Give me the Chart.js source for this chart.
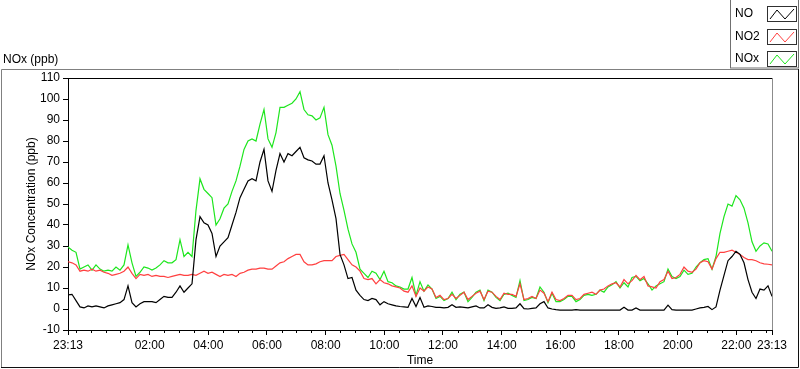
<!DOCTYPE html>
<html>
<head>
<meta charset="utf-8">
<script src="https://cdn.jsdelivr.net/npm/chart.js@4/dist/chart.umd.min.js"></script>
<style>
  html, body { margin: 0; padding: 0; background: #fff; }
  #wrap { width: 800px; height: 369px; }
</style>
</head>
<body>
<div id="wrap"><canvas id="nox" width="800" height="369"></canvas></div>
<script>
// readings every ~8 min from 23:13 to 23:13 next day (177 samples)
const NO = [
  6.7, 7, 4, 1, 0.5, 1.5, 1, 1.5, 1, 0.5,
  1.5, 2, 2.5, 3, 4.5, 11, 3, 1, 2.5, 3.5,
  3.5, 3.5, 3, 4.5, 6, 5.5, 5.5, 8, 11, 8,
  10, 12, 33, 44, 41, 40, 36, 25, 30, 32,
  34, 40, 46, 53, 57, 61, 62, 61, 70, 76,
  61, 56, 66, 74, 70, 74, 73, 75, 77, 72,
  71, 70.5, 69, 69, 73, 60, 52, 43, 26, 21,
  14.5, 15, 9, 6.5, 4.5, 4, 5, 4.5, 2, 3.5,
  2.5, 2, 1.5, 1.2, 1, 0.8, 5, 1.2, 5.5, 0.8,
  1.5, 1.2, 0.8, 0.8, 0.5, 0.8, 2, 0.8, 1, 0.8,
  0.5, 1, 1.5, 0.5, 0.5, 2, 0.8, 0.3, 0.5, 1,
  0.3, 0.3, 0.5, 2.5, 0.2, 0, 0.3, 0.5, 2.5, 3.5,
  0.5, 0, -0.3, -0.5, -0.5, -0.5, -0.5, -0.3, -0.5, -0.5,
  -0.5, -0.5, -0.5, -0.5, -0.5, -0.5, -0.5, -0.5, -0.5, 0.8,
  -0.5, -0.5, 0.5, -0.5, -0.5, -0.5, -0.5, -0.5, -0.5, -0.5,
  1.8, -0.3, -0.5, -0.5, -0.5, -0.5, -0.5, 0, 0.5, 0.8,
  1.2, -0.3, 1, 9, 16, 23, 25, 27.5, 26, 22,
  14, 8, 5, 9.5, 9, 11, 6
];

const NO2 = [
  22.5, 22, 21, 18, 18.5, 18, 19, 18, 18.5, 17.5,
  17, 16, 16.5, 17, 18, 20, 17, 14.5, 16.5, 16,
  16.5, 15.5, 16, 15.5, 15.5, 15, 15.5, 16, 16.5, 16,
  16, 16.5, 16, 17, 18, 17, 17.5, 16.5, 15.5, 16.5,
  16, 16.5, 15.5, 17, 17.5, 18.5, 19, 19, 19.5, 19.5,
  19, 19, 20.5, 22, 22.5, 24, 25, 26, 26, 22.5,
  21, 21, 21.5, 22.5, 23, 23, 23, 25, 25.5, 26,
  23.5, 21, 20, 18, 14.5, 14, 14.5, 12, 14, 12.5,
  12, 11, 10.5, 10, 8.5, 8, 11, 6, 10, 8.5,
  10.5, 9.5, 5.5, 6.5, 4.5, 5, 7, 5, 6.5, 8,
  4.5, 6, 7.5, 8.5, 4.5, 8.5, 8, 6, 4.5, 7.5,
  7, 7, 6, 12, 4.5, 5, 6, 5, 9, 7.5,
  3.5, 8, 4.5, 4, 5, 6.5, 6.5, 4.5, 5, 7,
  7.5, 8, 7, 9, 9.5, 11, 12, 12.5, 10.5, 14,
  12, 13.5, 16, 14, 15.5, 11, 10.5, 10, 13, 14,
  18, 14.5, 15, 16.5, 20, 18, 17.5, 19, 22, 23,
  22.5, 19, 24, 27, 27, 27.5, 28, 27, 26, 24.5,
  23.5, 23.5, 23, 22, 21.5, 21.3, 21
];

const NOX = [
  29.5, 28, 27, 19, 20, 21, 18.5, 21, 19, 18,
  18.5, 18, 20, 18.5, 21, 30.5, 22, 15.5, 17.5, 20,
  19.5, 18.5, 19.5, 21, 23, 22, 22, 23.5, 33, 25,
  27, 25, 47, 62, 57, 55, 53, 40, 43, 48,
  50, 56, 61, 68, 76, 80, 81, 80, 88, 95,
  81, 77, 84, 96, 96, 97, 98, 100, 103.5, 95,
  92.5, 92, 90, 91, 96, 83, 78, 68, 55, 47,
  38, 31, 27, 19, 17, 15, 18, 17, 14, 18,
  13, 12.5, 11, 10.5, 9.5, 9.5, 15, 6.5, 13, 8.5,
  11.5, 9.5, 5, 6, 4, 5, 8, 4.5, 7, 8,
  3.5, 5.5, 8, 9, 4, 9, 8, 5.5, 4, 7,
  7.5, 6.5, 5.5, 13.5, 4, 4.5, 5.5, 5, 10.5, 8,
  3, 7.5, 3.5, 3.5, 4.5, 6, 6, 3.5, 4.5, 6.5,
  7, 6.5, 7, 9, 8, 10.5, 11.5, 13, 10, 12.5,
  10.5, 15, 15.5, 13.5, 14.5, 12, 9, 11, 12, 13,
  19, 15.5, 14.5, 15.5, 18.5, 16.5, 17, 20, 22, 23.5,
  24, 19, 25, 36, 44, 50, 49, 54, 52, 48,
  41, 32, 27.5, 30, 31.5, 31, 27.5
];

// x axis in minutes after 23:13
const TICK_MINUTES = [0, 167, 287, 407, 527, 647, 767, 887, 1007, 1127, 1247, 1367, 1440];
const TICK_LABELS = ['23:13', '02:00', '04:00', '06:00', '08:00', '10:00', '12:00',
                     '14:00', '16:00', '18:00', '20:00', '22:00', '23:13'];

const SPAN = 1440;
const STEP = SPAN / (NO.length - 1);
const toPoints = arr => arr.map((v, i) => ({ x: i * STEP, y: v }));

Chart.defaults.font.family = "'Liberation Sans', Arial, sans-serif";
Chart.defaults.font.size = 12;
Chart.defaults.color = '#000';

// panel frame, top/right plot border, minor ticks, caption and legend
const decor = {
  id: 'decor',
  beforeDraw(chart) {
    const c = chart.ctx;
    c.save();
    c.fillStyle = '#fff';
    c.fillRect(0, 0, chart.width, chart.height);
    c.lineWidth = 1;
    c.strokeStyle = '#808080';
    c.beginPath();
    c.moveTo(1.5, 368); c.lineTo(1.5, 69.5); c.lineTo(798, 69.5);
    c.stroke();
    c.strokeStyle = '#101010';
    c.beginPath();
    c.moveTo(1, 367.5); c.lineTo(798.5, 367.5); c.lineTo(798.5, 69);
    c.stroke();
    c.restore();
  },
  afterDraw(chart) {
    const c = chart.ctx;
    const a = chart.chartArea;
    const xs = chart.scales.x;
    c.save();
    c.lineWidth = 1;
    c.strokeStyle = '#000';
    c.beginPath();
    c.moveTo(a.left, a.top + 0.5); c.lineTo(a.right, a.top + 0.5);
    c.stroke();
    c.strokeStyle = '#8c8c8c';
    c.beginPath();
    c.moveTo(a.right + 0.5, a.top); c.lineTo(a.right + 0.5, a.bottom);
    c.stroke();

    c.strokeStyle = '#000';
    c.beginPath();
    for (let m = 17; m < SPAN; m += 30) {
      if (TICK_MINUTES.includes(m)) continue;
      const px = Math.round(xs.getPixelForValue(m)) + 0.5;
      c.moveTo(px, a.bottom); c.lineTo(px, a.bottom + 3);
    }
    c.stroke();

    c.fillStyle = '#000';
    c.font = "12px 'Liberation Sans', Arial, sans-serif";
    c.textBaseline = 'middle';
    c.fillText('NOx (ppb)', 3, 60);

    // legend
    c.fillStyle = '#fff';
    c.fillRect(730, 0, 69, 68);
    c.strokeStyle = '#707070';
    c.strokeRect(730.5, -0.5, 68, 68.5);
    chart.data.datasets.forEach((ds, i) => {
      const top = 6 + Math.round(22.5 * i);
      c.fillStyle = '#000';
      c.fillText(ds.label, 735, top + 8);
      c.strokeStyle = '#303030';
      c.strokeRect(767.5, top + 0.5, 29, 15);
      c.strokeStyle = ds.borderColor;
      c.beginPath();
      c.moveTo(770, top + 13);
      c.lineTo(777, top + 4);
      c.lineTo(785, top + 13);
      c.lineTo(794, top + 3);
      c.stroke();
    });
    c.restore();
  }
};

new Chart(document.getElementById('nox'), {
  type: 'line',
  data: {
    datasets: [
      { label: 'NO', data: toPoints(NO), borderColor: '#000000' },
      { label: 'NO2', data: toPoints(NO2), borderColor: '#ff4040' },
      { label: 'NOx', data: toPoints(NOX), borderColor: '#1ee61e' }
    ]
  },
  options: {
    responsive: false,
    animation: false,
    devicePixelRatio: 1,
    layout: { padding: { top: 78, right: 28, left: 0, bottom: 0 } },
    elements: {
      line: { borderWidth: 1.2, tension: 0, fill: false },
      point: { radius: 0 }
    },
    plugins: {
      legend: { display: false },
      tooltip: { enabled: false }
    },
    scales: {
      x: {
        type: 'linear',
        min: 0,
        max: SPAN,
        afterBuildTicks: s => { s.ticks = TICK_MINUTES.map(v => ({ value: v })); },
        afterFit: s => { s.height = 39; },
        ticks: {
          autoSkip: false,
          maxRotation: 0,
          padding: 3,
          color: '#000',
          callback: (v, i) => TICK_LABELS[i]
        },
        grid: { drawOnChartArea: false, drawTicks: true, tickLength: 5, tickColor: '#000' },
        border: { display: true, color: '#000' },
        title: { display: true, text: 'Time', color: '#000', padding: { top: 0, bottom: 1 } }
      },
      y: {
        min: -10,
        max: 110,
        afterFit: s => { s.width = 68; },
        ticks: { stepSize: 10, padding: 3, color: '#000' },
        grid: { drawOnChartArea: false, drawTicks: true, tickLength: 5, tickColor: '#000' },
        border: { display: true, color: '#000' },
        title: {
          display: true,
          text: 'NOx Concentration (ppb)',
          color: '#000',
          padding: { top: 24, bottom: 0 }
        }
      }
    }
  },
  plugins: [decor]
});
</script>
</body>
</html>
